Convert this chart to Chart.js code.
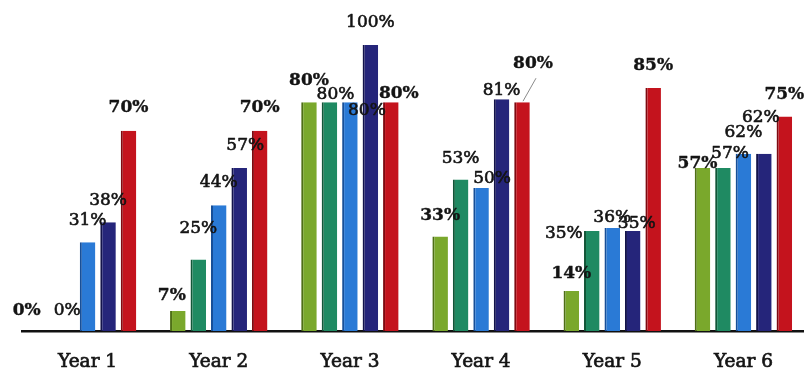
<!DOCTYPE html>
<html>
<head>
<meta charset="utf-8">
<style>
  html, body { margin: 0; padding: 0; background: #ffffff; overflow: hidden; }
  #wrap { width: 804px; height: 376px; overflow: hidden; }
  canvas { display: block; }
</style>
<script src="https://cdn.jsdelivr.net/npm/chart.js@4/dist/chart.umd.min.js"></script>
</head>
<body>
<div id="wrap"><canvas id="chart" width="812" height="376"></canvas></div>
<script>
// Yearly percentages for the five series
const years = ['Year 1', 'Year 2', 'Year 3', 'Year 4', 'Year 5', 'Year 6'];
const seriesGreen = [0, 7, 80, 33, 14, 57];
const seriesTeal  = [0, 25, 80, 53, 35, 57];
const seriesBlue  = [31, 44, 80, 50, 36, 62];
const seriesNavy  = [38, 57, 100, 81, 35, 62];
const seriesRed   = [70, 70, 80, 80, 85, 75];

const seriesColors = ['#7aa82c', '#1f8a62', '#2a7ad6', '#25257a', '#c4131d'];
const seriesEdges  = ['#4e6e16', '#125638', '#174f98', '#13134a', '#7e0a10'];
const boldSeries = [true, false, false, false, true];

// Value label placement per series/year: [horizontal shift, lift above bar top]
const labelPlacement = [
  [[-20, 16], [-6, 11], [0, 17], [0, 17], [0, 13], [-5, 0]],
  [[0, 16], [0, 27], [6, 3], [0, 16], [-28, -7], [7, 10]],
  [[0, 17], [0, 18], [17, -13], [11, 5], [0, 6], [0, 17]],
  [[0, 17], [6, 18], [0, 18], [0, 4], [4, 3], [-3, 32]],
  [[0, 19], [0, 19], [8, 4], [11, 34], [0, 18], [0, 18]]
];
// Labels joined to their bar by a short leader line: [series, year]
const leaderLines = [[4, 3]];

const valueLabels = {
  id: 'valueLabels',
  afterDatasetsDraw(chart) {
    const ctx = chart.ctx;
    ctx.save();
    ctx.textAlign = 'center';
    ctx.textBaseline = 'alphabetic';
    ctx.fillStyle = '#141414';
    ctx.strokeStyle = '#141414';
    ctx.lineJoin = 'round';
    chart.data.datasets.forEach((ds, di) => {
      const meta = chart.getDatasetMeta(di);
      meta.data.forEach((bar, i) => {
        const [dx, lift] = labelPlacement[di][i];
        const text = ds.data[i] + '%';
        const x = bar.x + dx, y = bar.y - lift;
        ctx.font = (boldSeries[di] ? 'bold ' : '') + '17px "DejaVu Serif", serif';
        ctx.fillText(text, x, y);
        ctx.lineWidth = boldSeries[di] ? 0.4 : 0.6;
        ctx.strokeText(text, x, y);
      });
    });
    ctx.strokeStyle = '#8a8a8a';
    ctx.lineWidth = 1;
    leaderLines.forEach(([di, i]) => {
      const bar = chart.getDatasetMeta(di).data[i];
      ctx.beginPath();
      ctx.moveTo(bar.x + 1, bar.y - 1);
      ctx.lineTo(bar.x + 14, bar.y - 24);
      ctx.stroke();
    });
    ctx.restore();
  }
};

const seriesValues = [seriesGreen, seriesTeal, seriesBlue, seriesNavy, seriesRed];

new Chart(document.getElementById('chart'), {
  type: 'bar',
  data: {
    labels: years,
    datasets: seriesValues.map((vals, k) => ({
      label: 'Series ' + (k + 1),
      data: vals,
      backgroundColor: seriesColors[k],
      borderColor: seriesEdges[k],
      borderWidth: { left: 2, right: 0, top: 0, bottom: 0 },
      borderSkipped: false,
      categoryPercentage: 0.78,
      barPercentage: 0.76
    }))
  },
  options: {
    responsive: false,
    animation: false,
    devicePixelRatio: 1,
    layout: { padding: { left: 22, right: 3, top: 45, bottom: 0 } },
    plugins: {
      legend: { display: false },
      tooltip: { enabled: false }
    },
    scales: {
      x: {
        grid: { display: false, drawTicks: false },
        border: { display: true, color: '#111111', width: 2.5 },
        ticks: {
          color: '#141414',
          padding: 20,
          textStrokeColor: '#141414',
          textStrokeWidth: 0.7,
          font: { family: '"DejaVu Serif", serif', size: 18.5 }
        },
        afterFit(scale) { scale.height = 45; }
      },
      y: {
        display: false,
        min: 0,
        max: 100
      }
    }
  },
  plugins: [valueLabels]
});
</script>
</body>
</html>
